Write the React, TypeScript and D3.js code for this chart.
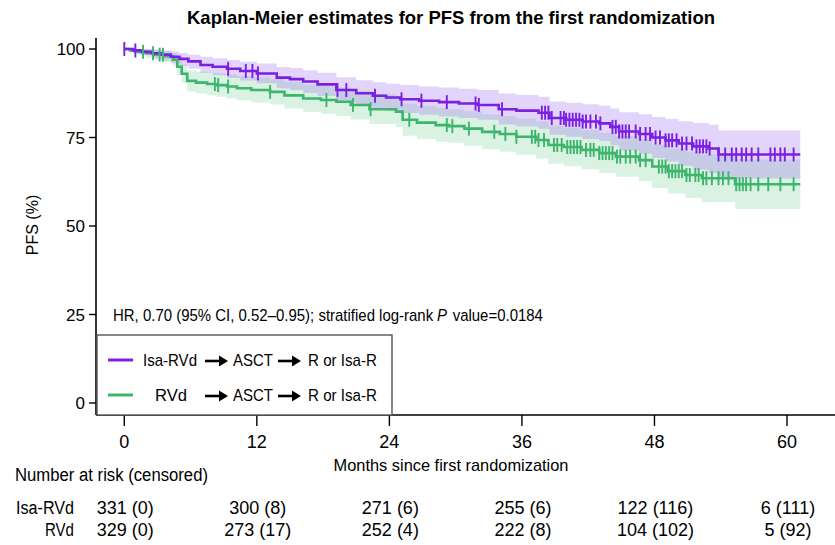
import React, { useLayoutEffect, useRef, useState } from "react";
import * as d3 from "d3";

const W = 835;
const H = 545;

const xTicks = [0, 12, 24, 36, 48, 60];
const yTicks = [0, 25, 50, 75, 100];
const endTime = 61.2;

// Isa-RVd arm: Kaplan-Meier steps (months, PFS %, 95% CI lower / upper)
const isaTimes = [0, 0.8, 1.6, 2.5, 3.3, 4.2, 5.0, 5.8, 6.9, 8.0, 9.3, 10.5, 12, 13.8, 15.0, 16.2, 17.5, 19.2, 21, 22.5, 23.7, 25, 26.7, 28.5, 30.3, 32, 33.9, 35.5, 37.5, 38.5, 40, 41.5, 43, 44, 44.8, 46.6, 47.8, 49, 50.2, 51.5, 52.9, 53.8];
const isaSurv = [100, 99.6, 99.2, 98.8, 98.4, 97.8, 97.2, 96.5, 95.5, 95.0, 94.4, 93.8, 93.1, 91.9, 91.5, 90.8, 90.0, 88.4, 87.5, 86.8, 86.3, 85.8, 85.4, 85.0, 84.6, 84.2, 83.0, 82.6, 82.0, 80.5, 80.0, 79.5, 79.0, 78.0, 76.7, 76.0, 75.0, 74.2, 73.3, 72.5, 71.9, 70.2];
const isaLower = [100, 98.8, 98.2, 97.4, 96.8, 96.0, 95.2, 94.4, 93.2, 92.6, 91.8, 91.1, 90.3, 88.9, 88.4, 87.6, 86.7, 84.9, 83.9, 83.1, 82.5, 81.9, 81.4, 80.9, 80.5, 80.0, 78.7, 78.2, 77.5, 75.8, 75.2, 74.6, 74.0, 72.8, 71.3, 70.4, 69.2, 68.2, 67.0, 65.9, 65.0, 63.4];
const isaUpper = [100, 100, 100, 99.8, 99.6, 99.3, 98.9, 98.4, 97.8, 97.4, 96.9, 96.4, 95.9, 94.9, 94.6, 94.0, 93.3, 92.0, 91.2, 90.6, 90.2, 89.8, 89.4, 89.1, 88.8, 88.4, 87.4, 87.0, 86.5, 85.2, 84.8, 84.4, 84.0, 83.2, 82.1, 81.6, 80.8, 80.2, 79.6, 79.1, 78.6, 77.0];
const isaCensored = [0, 1.0, 9.4, 11.0, 11.6, 12.1, 19.3, 20.1, 22.7, 25.1, 26.9, 29.2, 31.8, 32.1, 34.2, 37.8, 38.1, 38.4, 38.7, 39.5, 39.8, 40.0, 40.3, 40.6, 40.9, 41.2, 41.5, 41.8, 42.2, 42.7, 43.1, 44.2, 44.5, 44.8, 45.1, 45.4, 45.7, 46.3, 46.7, 47.2, 47.6, 48.1, 48.5, 49.0, 49.3, 49.6, 50.0, 50.5, 50.9, 51.4, 51.8, 52.1, 52.4, 52.7, 53.0, 53.8, 54.4, 55.0, 55.4, 55.9, 56.3, 56.8, 57.4, 58.5, 58.9, 59.4, 59.8, 60.6];

// RVd arm
const rvdTimes = [0, 0.5, 1.2, 2.0, 2.8, 3.6, 4.4, 4.8, 5.2, 5.7, 6.5, 7.5, 8.4, 9.3, 10.2, 11.5, 13.2, 14.5, 16.2, 17.8, 19.2, 20.5, 22.2, 24.6, 25.2, 26.5, 28.2, 29.4, 30.8, 32.4, 34, 35.5, 37.3, 38.4, 39.8, 41.4, 43, 44.5, 46.6, 47.8, 49.2, 50.8, 52.3, 55.3];
const rvdSurv = [100, 99.6, 99.2, 98.8, 98.4, 98.0, 97.0, 95.0, 93.0, 91.0, 90.5, 90.1, 89.8, 89.4, 88.9, 88.4, 87.9, 86.9, 86.0, 85.6, 85.1, 84.2, 83.0, 82.3, 80.0, 79.2, 78.5, 78.2, 77.5, 76.6, 76.0, 75.2, 74.3, 72.9, 72.3, 71.5, 70.6, 69.6, 68.6, 66.8, 65.5, 64.4, 63.5, 61.8];
const rvdLower = [100, 98.9, 98.2, 97.5, 96.9, 96.3, 95.1, 92.7, 90.3, 88.0, 87.4, 86.9, 86.5, 86.0, 85.5, 84.9, 84.3, 83.2, 82.2, 81.7, 81.1, 80.1, 78.8, 78.0, 75.5, 74.6, 73.8, 73.5, 72.7, 71.7, 71.0, 70.1, 69.1, 67.6, 66.9, 66.0, 65.0, 63.9, 62.7, 60.7, 59.2, 57.9, 56.8, 54.8];
const rvdUpper = [100, 100, 100, 99.9, 99.7, 99.4, 98.9, 97.3, 95.7, 94.0, 93.6, 93.3, 93.1, 92.8, 92.4, 92.0, 91.5, 90.7, 89.9, 89.5, 89.1, 88.3, 87.3, 86.7, 84.6, 83.9, 83.3, 83.0, 82.4, 81.6, 81.1, 80.4, 79.6, 78.3, 77.8, 77.1, 76.3, 75.4, 74.6, 73.0, 71.9, 71.0, 70.3, 68.8];
const rvdCensored = [1.7, 2.6, 3.2, 3.5, 8.2, 8.5, 9.4, 13.2, 18.3, 20.7, 22.3, 25.8, 29.2, 29.7, 31.2, 33.5, 34.5, 35.5, 36.9, 37.2, 37.5, 38.0, 38.9, 39.2, 39.6, 40.1, 40.4, 40.7, 41.0, 41.3, 41.8, 42.2, 42.5, 43.0, 43.3, 43.6, 43.9, 44.2, 44.6, 44.9, 45.4, 45.8, 46.3, 46.7, 47.2, 48.4, 48.7, 49.0, 49.3, 49.6, 49.9, 50.2, 50.5, 50.9, 51.2, 51.7, 52.0, 52.4, 52.7, 53.2, 53.8, 54.2, 54.7, 55.4, 55.7, 56.0, 56.3, 56.7, 57.4, 58.3, 59.4, 60.6];

// Number at risk (censored) table
const riskGroups = ["Isa-RVd", "RVd"];
const isaAtRisk = [331, 300, 271, 255, 122, 6];
const isaCens = [0, 8, 6, 6, 116, 111];
const rvdAtRisk = [329, 273, 252, 222, 104, 5];
const rvdCens = [0, 17, 4, 8, 102, 92];

const PURPLE = "#7A20E3";
const GREEN = "#3DB56C";
const NARROW = "'Liberation Sans Narrow','Arial Narrow','Liberation Sans',sans-serif";
const SANS = "'Liberation Sans',Arial,sans-serif";

const x = d3.scaleLinear().domain([0, 60]).range([124.3, 787]);
const y = d3.scaleLinear().domain([0, 100]).range([403, 49]);

type Arm = {
  times: number[];
  surv: number[];
  lower: number[];
  upper: number[];
  censored: number[];
  color: string;
};

const arms: Arm[] = [
  { times: rvdTimes, surv: rvdSurv, lower: rvdLower, upper: rvdUpper, censored: rvdCensored, color: GREEN },
  { times: isaTimes, surv: isaSurv, lower: isaLower, upper: isaUpper, censored: isaCensored, color: PURPLE },
];

function stepValue(times: number[], vals: number[], t: number) {
  let v = vals[0];
  for (let i = 0; i < times.length; i++) if (times[i] <= t) v = vals[i];
  return v;
}

function withEnd(times: number[], vals: number[]) {
  const pts = times.map((t, i) => [t, vals[i]] as [number, number]);
  pts.push([endTime, vals[vals.length - 1]]);
  return pts;
}

const line = d3
  .line<[number, number]>()
  .x((d) => x(d[0]))
  .y((d) => y(d[1]))
  .curve(d3.curveStepAfter);

const area = d3
  .area<[number, number, number]>()
  .x((d) => x(d[0]))
  .y0((d) => y(d[1]))
  .y1((d) => y(d[2]))
  .curve(d3.curveStepAfter);

function bandPoints(a: Arm) {
  const pts = a.times.map((t, i) => [t, a.lower[i], a.upper[i]] as [number, number, number]);
  const n = a.times.length - 1;
  pts.push([endTime, a.lower[n], a.upper[n]]);
  return pts;
}

function Arrow({ x0, yc }: { x0: number; yc: number }) {
  const len = 23;
  return (
    <g>
      <line x1={x0} y1={yc} x2={x0 + len - 7} y2={yc} stroke="#000" strokeWidth={2.6} />
      <path d={`M${x0 + len - 9},${yc - 5.5} L${x0 + len},${yc} L${x0 + len - 9},${yc + 5.5} Z`} fill="#000" />
    </g>
  );
}

// Hazard-ratio line: three runs (plain, italic P, plain) laid out by measured widths,
// then squeezed horizontally to the target width.
function HazardNote({ x0, baseline, width }: { x0: number; baseline: number; width: number }) {
  const r1 = useRef<SVGTextElement>(null);
  const r2 = useRef<SVGTextElement>(null);
  const r3 = useRef<SVGTextElement>(null);
  const [lay, setLay] = useState({ p: 320, v: 334, s: 1 });
  useLayoutEffect(() => {
    if (!r1.current || !r2.current || !r3.current) return;
    const gap = 4;
    const w1 = r1.current.getComputedTextLength();
    const w2 = r2.current.getComputedTextLength();
    const w3 = r3.current.getComputedTextLength();
    const p = w1 + gap;
    const v = p + w2 + gap + 2;
    const total = v + w3;
    setLay({ p, v, s: width / total });
  }, [width]);
  return (
    <g transform={`translate(${x0},${baseline}) scale(${lay.s},1)`} fontFamily={SANS} fontSize={16} fill="#000">
      <text ref={r1} x={0} y={0}>HR, 0.70 (95% CI, 0.52–0.95); stratified log-rank</text>
      <text ref={r2} x={lay.p} y={0} fontStyle="italic">P</text>
      <text ref={r3} x={lay.v} y={0}>value=0.0184</text>
    </g>
  );
}

export default function App() {
  const axisX0 = 96;
  const axisY = 415;
  const bandOpacity = [0.2, 0.3];
  const bandFill = ["#40C070", "#A070F0"];

  return (
    <svg
      width={W}
      height={H}
      viewBox={`0 0 ${W} ${H}`}
      style={{ position: "fixed", left: 0, top: 0, background: "#fff" }}
    >
      <rect x={0} y={0} width={W} height={H} fill="#fff" />

      {/* title */}
      <text x={451} y={24} textAnchor="middle" fontFamily={NARROW} fontWeight="bold" fontSize={19}
        textLength={528} lengthAdjust="spacingAndGlyphs">
        Kaplan-Meier estimates for PFS from the first randomization
      </text>

      {/* confidence bands */}
      {arms.map((a, i) => (
        <path key={`band-${i}`} d={area(bandPoints(a)) || ""} fill={bandFill[i]} fillOpacity={bandOpacity[i]} stroke="none" />
      ))}

      {/* survival curves */}
      {arms.map((a, i) => (
        <path key={`line-${i}`} d={line(withEnd(a.times, a.surv)) || ""} fill="none" stroke={a.color} strokeWidth={2.6} />
      ))}

      {/* censor marks */}
      {arms.map((a, i) => (
        <g key={`cens-${i}`} stroke={a.color} strokeWidth={1.9}>
          {a.censored.map((t, j) => {
            const cy = y(stepValue(a.times, a.surv, t));
            return <line key={j} x1={x(t)} x2={x(t)} y1={cy - 7} y2={cy + 7} />;
          })}
        </g>
      ))}

      {/* y axis */}
      <line x1={axisX0} x2={axisX0} y1={38} y2={axisY} stroke="#000" strokeWidth={1.6} />
      {yTicks.map((t) => (
        <g key={`yt-${t}`}>
          <line x1={axisX0 - 7} x2={axisX0} y1={y(t)} y2={y(t)} stroke="#000" strokeWidth={1.4} />
          <text x={85} y={y(t) + 6} textAnchor="end" fontFamily={NARROW} fontSize={17} fill="#000">
            {t}
          </text>
        </g>
      ))}
      <text transform={`translate(38,225) rotate(-90)`} textAnchor="middle" fontFamily={SANS} fontSize={16} fill="#000">
        PFS (%)
      </text>

      {/* x axis */}
      <line x1={axisX0} x2={W} y1={axisY} y2={axisY} stroke="#000" strokeWidth={1.6} />
      {xTicks.map((t) => (
        <g key={`xt-${t}`}>
          <line x1={x(t)} x2={x(t)} y1={axisY} y2={axisY + 11} stroke="#000" strokeWidth={1.4} />
          <text x={x(t)} y={448} textAnchor="middle" fontFamily={NARROW} fontSize={18} fill="#000">
            {t}
          </text>
        </g>
      ))}
      <text x={451} y={471} textAnchor="middle" fontFamily={NARROW} fontSize={17} fill="#000"
        textLength={235} lengthAdjust="spacingAndGlyphs">
        Months since first randomization
      </text>

      {/* hazard ratio annotation */}
      <HazardNote x0={113} baseline={321} width={430} />

      {/* legend */}
      <rect x={97} y={335} width={295} height={80} fill="#fff" stroke="#555" strokeWidth={1.4} />
      <line x1={108} x2={133} y1={360} y2={360} stroke={PURPLE} strokeWidth={3} />
      <line x1={108} x2={133} y1={395} y2={395} stroke={GREEN} strokeWidth={3} />
      <g fontFamily={NARROW} fontSize={17} fill="#000">
        <text x={143} y={366} textLength={54} lengthAdjust="spacingAndGlyphs">Isa-RVd</text>
        <text x={155} y={401} textLength={32} lengthAdjust="spacingAndGlyphs">RVd</text>
        <text x={233} y={366} textLength={40} lengthAdjust="spacingAndGlyphs">ASCT</text>
        <text x={233} y={401} textLength={40} lengthAdjust="spacingAndGlyphs">ASCT</text>
        <text x={308} y={366} textLength={69} lengthAdjust="spacingAndGlyphs">R or Isa-R</text>
        <text x={308} y={401} textLength={69} lengthAdjust="spacingAndGlyphs">R or Isa-R</text>
      </g>
      <Arrow x0={205} yc={361} />
      <Arrow x0={278} yc={361} />
      <Arrow x0={205} yc={396} />
      <Arrow x0={278} yc={396} />

      {/* number at risk table */}
      <text x={15} y={481} fontFamily={NARROW} fontSize={18} fill="#000" textLength={193} lengthAdjust="spacingAndGlyphs">
        Number  at risk (censored)
      </text>
      {riskGroups.map((g, gi) => {
        const rowY = gi === 0 ? 514 : 536;
        const atRisk = gi === 0 ? isaAtRisk : rvdAtRisk;
        const cens = gi === 0 ? isaCens : rvdCens;
        return (
          <g key={g} fontFamily={NARROW} fontSize={18} fill="#000">
            <text x={74} y={rowY} textAnchor="end" textLength={gi === 0 ? 58 : 29} lengthAdjust="spacingAndGlyphs">{g}</text>
            {xTicks.map((t, i) => (
              <text key={t} x={x(t) + 1} y={rowY} textAnchor="middle">
                {`${atRisk[i]} (${cens[i]})`}
              </text>
            ))}
          </g>
        );
      })}
    </svg>
  );
}
